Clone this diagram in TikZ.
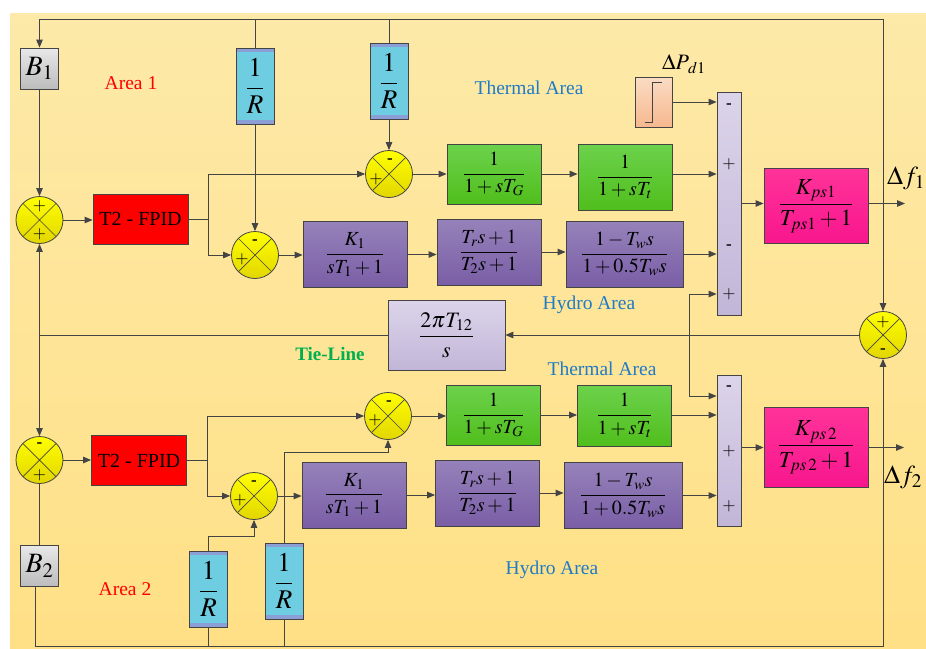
\documentclass[tikz,border=0pt]{standalone}
\usepackage{amsmath}
\usepackage{mathptmx}
\usepackage{fontspec}
\setmainfont{Liberation Serif}
\usetikzlibrary{arrows.meta,shapes.geometric,calc}
\definecolor{linec}{HTML}{444444}
\definecolor{bgtop}{HTML}{FDE9A8}
\definecolor{bgbot}{HTML}{FFE086}
\definecolor{sumtop}{HTML}{FFFF00}
\definecolor{sumbot}{HTML}{E2D600}
\definecolor{grtop}{HTML}{6CD24C}
\definecolor{grbot}{HTML}{50BE1C}
\definecolor{putop}{HTML}{9682BA}
\definecolor{pubot}{HTML}{7A5EA6}
\definecolor{latop}{HTML}{DCD4EA}
\definecolor{labot}{HTML}{C2B6D8}
\definecolor{pktop}{HTML}{FF3399}
\definecolor{pkbot}{HTML}{F8168E}
\definecolor{rblue}{HTML}{6ECDE0}
\definecolor{rstripe}{HTML}{8C9ED6}
\definecolor{gtop}{HTML}{E8E8E8}
\definecolor{gbot}{HTML}{BCBCBC}
\definecolor{sttop}{HTML}{FBDCC4}
\definecolor{stbot}{HTML}{F6B88E}
\definecolor{areablue}{HTML}{1F7BC6}
\definecolor{tiegreen}{HTML}{00B050}
\begin{document}
\begin{tikzpicture}[x=1pt,y=-1pt,
  wire/.style={draw=linec, line width=0.9pt},
  arr/.style={wire, -{Triangle[length=8pt,width=6.5pt]}},
  blk/.style={draw=linec, line width=0.8pt, inner sep=0pt, align=center},
  bblk/.style={blk, minimum width=38pt, minimum height=41pt, top color=gtop, bottom color=gbot, font=\fontsize{28}{30}\selectfont},
  fpid/.style={blk, fill=red, minimum width=95pt, minimum height=50pt, font=\fontsize{20}{24}\selectfont},
  rblk/.style={blk, fill=rblue, minimum width=38pt, minimum height=76pt, font=\fontsize{27}{30}\selectfont,
    path picture={\fill[rstripe] (path picture bounding box.north west) rectangle ([yshift=-4pt]path picture bounding box.north east);
      \fill[rstripe] (path picture bounding box.south west) rectangle ([yshift=4pt]path picture bounding box.south east);}},
  grn/.style={blk, top color=grtop, bottom color=grbot, minimum width=94pt, minimum height=60pt, font=\fontsize{20}{24}\selectfont},
  pur/.style={blk, top color=putop, bottom color=pubot, minimum width=104pt, minimum height=66pt, font=\fontsize{20}{24}\selectfont},
  bar/.style={blk, top color=latop, bottom color=labot, minimum width=24pt},
  tie/.style={blk, top color=latop, bottom color=labot, minimum width=117pt, minimum height=70pt, font=\fontsize{22}{26}\selectfont},
  pnk/.style={blk, top color=pktop, bottom color=pkbot, minimum width=104pt, minimum height=75pt, font=\fontsize{23}{27}\selectfont},
  stepblk/.style={blk, top color=sttop, bottom color=stbot, minimum width=37pt, minimum height=50pt},
  sumc/.style={circle, draw=linec, line width=0.8pt, minimum size=47pt, inner sep=0pt, top color=sumtop, bottom color=sumbot,
    path picture={\draw[linec,line width=0.7pt] (path picture bounding box.north west) -- (path picture bounding box.south east)
      (path picture bounding box.north east) -- (path picture bounding box.south west);}},
  sgn/.style={inner sep=0pt, font=\fontsize{17}{17}\selectfont},
  lbl/.style={inner sep=0pt, font=\fontsize{19.5}{22}\selectfont},
]
\useasboundingbox (0,0) rectangle (926,648);
\fill[white] (0,0) rectangle (926,648);
\shade[top color=bgtop, bottom color=bgbot] (10,13) rectangle (926,648);

% ---------------- Area 1 ----------------
\node[bblk] (B1) at (39.5,68.5) {$B_{1}$};
\node[sumc] (c1) at (39.5,220) {};
\node[fpid] (F1) at (140.5,219) {T2 - FPID};
\node[rblk] (R1) at (255,86) {$\dfrac{1}{R}$};
\node[rblk] (R2) at (389,81) {$\dfrac{1}{R}$};
\node[sumc] (t1) at (389,174) {};
\node[sumc] (h1) at (255,255) {};
\node[grn] (G1) at (494,174) {$\dfrac{1}{1+sT_G}$};
\node[grn, minimum height=66pt] (Tt1) at (625,177) {$\dfrac{1}{1+sT_t}$};
\node[pur] (K1) at (355,254.5) {$\dfrac{K_1}{sT_1+1}$};
\node[pur] (Tr1) at (489,252) {$\dfrac{T_rs+1}{T_2s+1}$};
\node[pur, minimum width=117pt] (Tw1) at (624.5,254) {$\dfrac{1-T_ws}{1+0.5T_ws}$};
\node[stepblk] (S1) at (653.5,102) {};
\node[bar, minimum height=223pt] (P1) at (729,203.5) {};
\node[pnk] (M1) at (816,206) {$\dfrac{K_{ps1}}{T_{ps1}+1}$};
\node[inner sep=0pt, font=\fontsize{22}{24}\selectfont] (dp) at (684,64) {$\Delta P_{\,d1}$};
\node[inner sep=0pt, anchor=west, font=\fontsize{26}{30}\selectfont] (df1) at (887,178) {$\Delta f_1$};

% ---------------- Tie line ----------------
\node[sumc] (tc) at (883,335) {};
\node[tie] (TB) at (446.5,335) {$\dfrac{2\pi T_{12}}{s}$};

% ---------------- Area 2 ----------------
\node[sumc] (c2) at (39.5,460) {};
\node[fpid] (F2) at (139,460.5) {T2 - FPID};
\node[bblk] (B2) at (39.5,566) {$B_{2}$};
\node[sumc] (t2) at (388,416) {};
\node[sumc] (h2) at (254,496) {};
\node[grn] (G2) at (493.5,415) {$\dfrac{1}{1+sT_G}$};
\node[grn, minimum height=61pt] (Tt2) at (624.5,415.5) {$\dfrac{1}{1+sT_t}$};
\node[pur] (K2) at (354,495) {$\dfrac{K_1}{sT_1+1}$};
\node[pur] (Tr2) at (487.5,493) {$\dfrac{T_rs+1}{T_2s+1}$};
\node[pur, minimum width=118pt] (Tw2) at (623,495.5) {$\dfrac{1-T_ws}{1+0.5T_ws}$};
\node[bar, minimum height=151pt] (P2) at (729,450.5) {};
\node[pnk, minimum height=80pt] (M2) at (816,447.5) {$\dfrac{K_{ps\,2}}{T_{ps\,2}+1}$};
\node[rblk] (R3) at (208.5,589) {$\dfrac{1}{R}$};
\node[rblk] (R4) at (284,581) {$\dfrac{1}{R}$};
\node[inner sep=0pt, anchor=west, font=\fontsize{26}{30}\selectfont] (df2) at (884,477) {$\Delta f_2$};

% ---------------- labels ----------------
\node[lbl, text=red] (a1) at (131,83) {Area 1};
\node[lbl, text=red] (a2) at (125,589) {Area 2};
\node[lbl, text=areablue] (th1) at (529,88) {Thermal Area};
\node[lbl, text=areablue] (hy1) at (589,305) {Hydro Area};
\node[lbl, text=areablue] (th2) at (602,369) {Thermal Area};
\node[lbl, text=areablue] (hy2) at (552,570) {Hydro Area};
\node[lbl, text=tiegreen, font=\fontsize{19}{22}\selectfont\bfseries] (tl) at (330,354) {Tie-Line};

% ---------------- signs ----------------
\node[sgn] (s1a) at ($(c1)+(0,-14)$) {$+$};
\node[sgn] (s1b) at ($(c1)+(0,14)$) {$+$};
\node[sgn] (s2a) at ($(t1)+(1,-13)$) {\textbf{-}};
\node[sgn] (s2b) at ($(t1)+(-13,5)$) {$+$};
\node[sgn] (s3a) at ($(h1)+(0,-13)$) {\textbf{-}};
\node[sgn] (s3b) at ($(h1)+(-13,4)$) {$+$};
\node[sgn] (s4a) at ($(c2)+(0,-15)$) {\textbf{-}};
\node[sgn] (s4b) at ($(c2)+(0,15)$) {$+$};
\node[sgn] (s5a) at ($(t2)+(1,-13)$) {\textbf{-}};
\node[sgn] (s5b) at ($(t2)+(-13,4)$) {$+$};
\node[sgn] (s6a) at ($(h2)+(0,-13)$) {\textbf{-}};
\node[sgn] (s6b) at ($(h2)+(-14,4)$) {$+$};
\node[sgn] (s7a) at ($(tc)+(0,-13)$) {$+$};
\node[sgn] (s7b) at ($(tc)+(0,16)$) {\textbf{-}};
\node[sgn] (p1a) at (729,106) {\textbf{-}};
\node[sgn] (p1b) at (729,164) {$+$};
\node[sgn] (p1c) at (729,247) {\textbf{-}};
\node[sgn] (p1d) at (729,294) {$+$};
\node[sgn] (p2a) at (729,388) {\textbf{-}};
\node[sgn] (p2b) at (729,451) {$+$};
\node[sgn] (p2c) at (729,506) {$+$};

% step symbol
\draw[linec, line width=0.9pt] ($(S1)+(-9,20)$) -- ($(S1)+(-1.5,20)$) -- ($(S1)+(-1.5,-20)$) -- ($(S1)+(8.5,-20)$);

% ---------------- coordinates ----------------
\coordinate (topR) at (883,19);
\coordinate (topL) at (39.5,19);
\coordinate (o1) at (905,203.5);
\coordinate (j1) at (883,203.5);
\coordinate (b1) at (208,219);
\coordinate (jt) at (39.5,335);
\coordinate (v1) at (689,294);
\coordinate (v2) at (689,396);
\coordinate (b2) at (207,460.5);
\coordinate (o2) at (904,447.5);
\coordinate (k3) at (208.5,536);
\coordinate (k4) at (284,452);
\coordinate (bl) at (35,646);
\coordinate (br) at (883,646);

% ---------------- connectors area 1 ----------------
\draw[arr] (j1) -- (topR) -- (topL) -- (B1.north);
\draw[wire] (R1 |- topL) -- (R1.north);
\draw[wire] (R2 |- topL) -- (R2.north);
\draw[arr] (R1.south) -- (h1.north);
\draw[arr] (R2.south) -- (t1.north);
\draw[arr] (B1.south) -- (c1.north);
\draw[arr] (c1.east) -- (c1.east -| F1.west);
\draw[wire] (F1.east) -- (b1);
\draw[arr] (b1) |- (t1.west);
\draw[arr] (b1) |- (h1.west);
\draw[arr] (t1.east) -- (t1.east -| G1.west);
\draw[arr] (G1.east) -- (G1.east -| Tt1.west);
\draw[arr] (Tt1.east |- G1.east) -- (P1.west |- G1.east);
\draw[arr] (h1.east) -- (h1.east -| K1.west);
\draw[arr] (K1.east) -- (K1.east -| Tr1.west);
\draw[arr] (Tr1.east) -- (Tr1.east -| Tw1.west);
\draw[arr] (Tw1.east) -- (Tw1.east -| P1.west);
\draw[arr] (S1.east) -- (S1.east -| P1.west);
\draw[arr] (P1.east) -- (P1.east -| M1.west);
\draw[arr] (P1.east -| M1.east) -- (o1);
\draw[arr] (j1) -- (tc.north);

% ---------------- tie line ----------------
\draw[arr] (tc.west) -- (TB.east);
\draw[wire] (TB.west) -- (jt);
\draw[arr] (jt) -- (c1.south);
\draw[arr] (jt) -- (c2.north);
\draw[arr] (v1) -- (v1 -| P1.west);
\draw[arr] (v1) -- (v2) -- (v2 -| P2.west);

% ---------------- connectors area 2 ----------------
\draw[arr] (c2.east) -- (c2.east -| F2.west);
\draw[wire] (c2.south) -- (B2.north);
\draw[wire] (F2.east) -- (b2);
\draw[arr] (b2) |- (t2.west);
\draw[arr] (b2) |- (h2.west);
\draw[arr] (t2.east) -- (t2.east -| G2.west);
\draw[arr] (G2.east) -- (G2.east -| Tt2.west);
\draw[arr] (Tt2.east |- G2.east) -- (P2.west |- G2.east);
\draw[arr] (h2.east) -- (h2.east -| K2.west);
\draw[arr] (K2.east) -- (K2.east -| Tr2.west);
\draw[arr] (Tr2.east) -- (Tr2.east -| Tw2.west);
\draw[arr] (Tw2.east) -- (Tw2.east -| P2.west);
\draw[arr] (P2.east |- M2.west) -- (M2.west);
\draw[arr] (M2.east) -- (o2);
\draw[arr] (R3.north) -- (k3) -| (h2.south);
\draw[arr] (R4.north) -- (k4) -| (t2.south);
\draw[arr] (B2.south -| bl) -- (bl) -- (br) -- (tc.south);
\draw[wire] (R3.south) -- (R3.south |- bl);
\draw[wire] (R4.south) -- (R4.south |- bl);
\end{tikzpicture}
\end{document}
